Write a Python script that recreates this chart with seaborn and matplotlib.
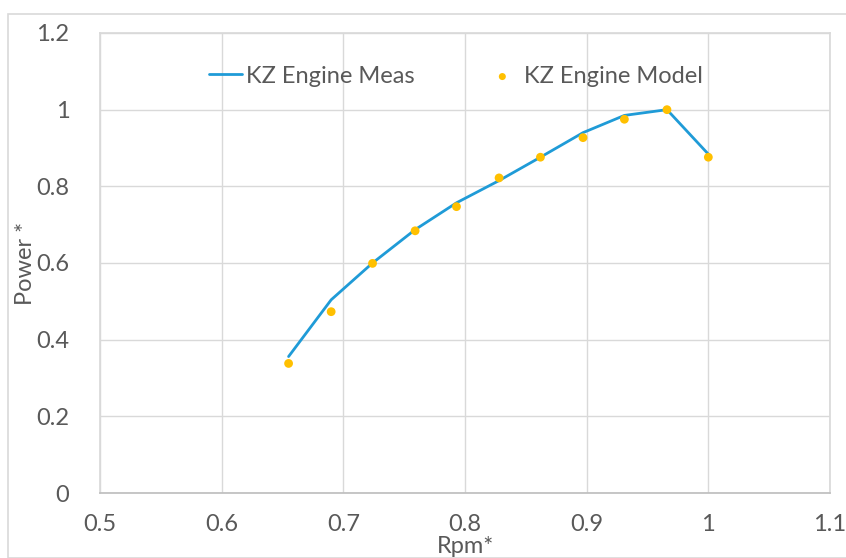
import matplotlib
matplotlib.use("Agg")
import matplotlib.pyplot as plt
import seaborn as sns
import pandas as pd
from matplotlib.patches import Rectangle

rpm = [0.655, 0.69, 0.724, 0.759, 0.793, 0.828, 0.862, 0.897, 0.931, 0.966, 1.0]
meas = [0.356, 0.504, 0.600, 0.687, 0.757, 0.815, 0.876, 0.940, 0.985, 1.0, 0.884]
model = [0.338, 0.473, 0.599, 0.684, 0.747, 0.822, 0.876, 0.927, 0.975, 1.0, 0.876]
xticks = [0.5, 0.6, 0.7, 0.8, 0.9, 1.0, 1.1]
xtick_labels = ["0.5", "0.6", "0.7", "0.8", "0.9", "1", "1.1"]
yticks = [0, 0.2, 0.4, 0.6, 0.8, 1.0, 1.2]
ytick_labels = ["0", "0.2", "0.4", "0.6", "0.8", "1", "1.2"]

df = pd.DataFrame({"rpm": rpm, "meas": meas, "model": model})

sns.set_theme(style="white")
plt.rcParams['font.family'] = ['Lato', 'DejaVu Sans']

fig = plt.figure(figsize=(8.46, 5.58), dpi=100)
ax = fig.add_axes([100/846, 1-493/558, 730/846, 460/558])

fig.patches.append(Rectangle((8/846, 0), 1, 1-14/558, transform=fig.transFigure,
                             fill=False, edgecolor="#D9D9D9", linewidth=1.2))

sns.lineplot(data=df, x="rpm", y="meas", ax=ax, color="#1F9BD7", linewidth=2,
             label="KZ Engine Meas", sort=False)
sns.scatterplot(data=df, x="rpm", y="model", ax=ax, color="#FFC000", s=40,
                edgecolor="none", label="KZ Engine Model", zorder=3)

ax.set_xlim(0.5, 1.1)
ax.set_ylim(0, 1.2)
ax.set_xticks(xticks)
ax.set_xticklabels(xtick_labels)
ax.set_yticks(yticks)
ax.set_yticklabels(ytick_labels)
ax.grid(True, color="#D9D9D9", linewidth=1)
ax.set_axisbelow(True)
for s in ax.spines.values():
    s.set_color("#D9D9D9")
ax.spines["bottom"].set_color("#BFBFBF")
ax.tick_params(axis="both", length=0, labelsize=17, colors="#595959")
ax.tick_params(axis="x", pad=15)
ax.tick_params(axis="y", pad=22)
ax.set_xlabel("Rpm*", fontsize=17, color="#595959", labelpad=1)
ax.set_ylabel("Power *", fontsize=17, color="#595959", labelpad=0)

leg = ax.legend(loc="upper center", bbox_to_anchor=(0.487, 0.975), ncol=2, frameon=False,
                fontsize=17, labelcolor="#595959", handlelength=1.4, handletextpad=0.2,
                columnspacing=3.0, markerscale=0.8)

fig.savefig("out.png", dpi=100)
